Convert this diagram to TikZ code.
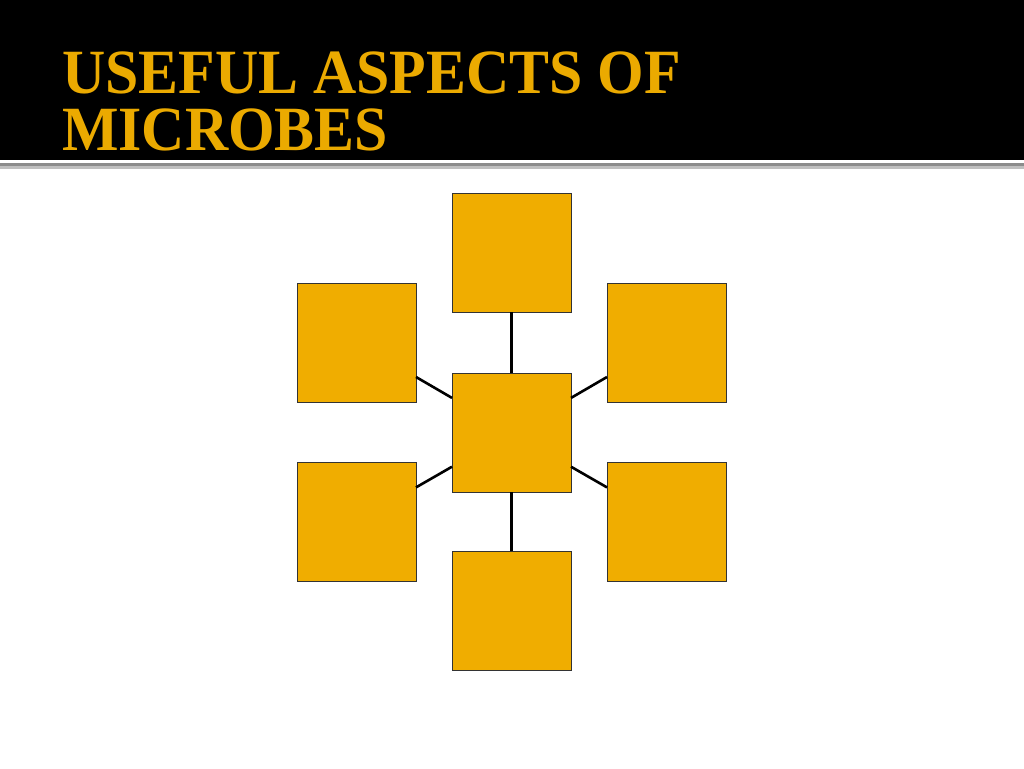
\documentclass[tikz,border=0pt]{standalone}
\usepackage{fontspec}
\setmainfont{Liberation Serif}
\newfontfamily\titlefont[FakeStretch=0.95]{Liberation Serif}
\definecolor{gold}{HTML}{F0AD00}
\definecolor{titlegold}{HTML}{EBAA00}
\begin{document}
\begin{tikzpicture}[x=1pt,y=-1pt,
  box/.style={draw=black!80,line width=0.8pt,fill=gold,minimum width=119pt,minimum height=119pt,inner sep=0pt,outer sep=0pt},
  link/.style={line width=2.6pt,black},
  ttl/.style={anchor=base west,inner sep=0pt,text=titlegold,font=\titlefont\fontsize{63}{57}\selectfont\bfseries}]
\useasboundingbox (0,0) rectangle (1024,768);
\fill[white] (0,0) rectangle (1024,768);
\fill[black] (0,0) rectangle (1024,160);
\fill[black!45] (0,163) rectangle (1024,166);
\fill[black!25] (0,166) rectangle (1024,169);
\node[ttl] (t1) at (62,93) {USEFUL ASPECTS OF};
\node[ttl] (t2) at (62,150) {MICROBES};
\node[box] (c) at (511.5,432.5) {};
\node[box] (n) at (511.5,252.5) {};
\node[box] (s) at (511.5,610.5) {};
\node[box] (lu) at (356.5,342.5) {};
\node[box] (ru) at (666.5,342.5) {};
\node[box] (ll) at (356.5,521.5) {};
\node[box] (rl) at (666.5,521.5) {};
\draw[link] (c) -- (n);
\draw[link] (c) -- (s);
\draw[link] (c) -- (lu);
\draw[link] (c) -- (ru);
\draw[link] (c) -- (ll);
\draw[link] (c) -- (rl);
\end{tikzpicture}
\end{document}
